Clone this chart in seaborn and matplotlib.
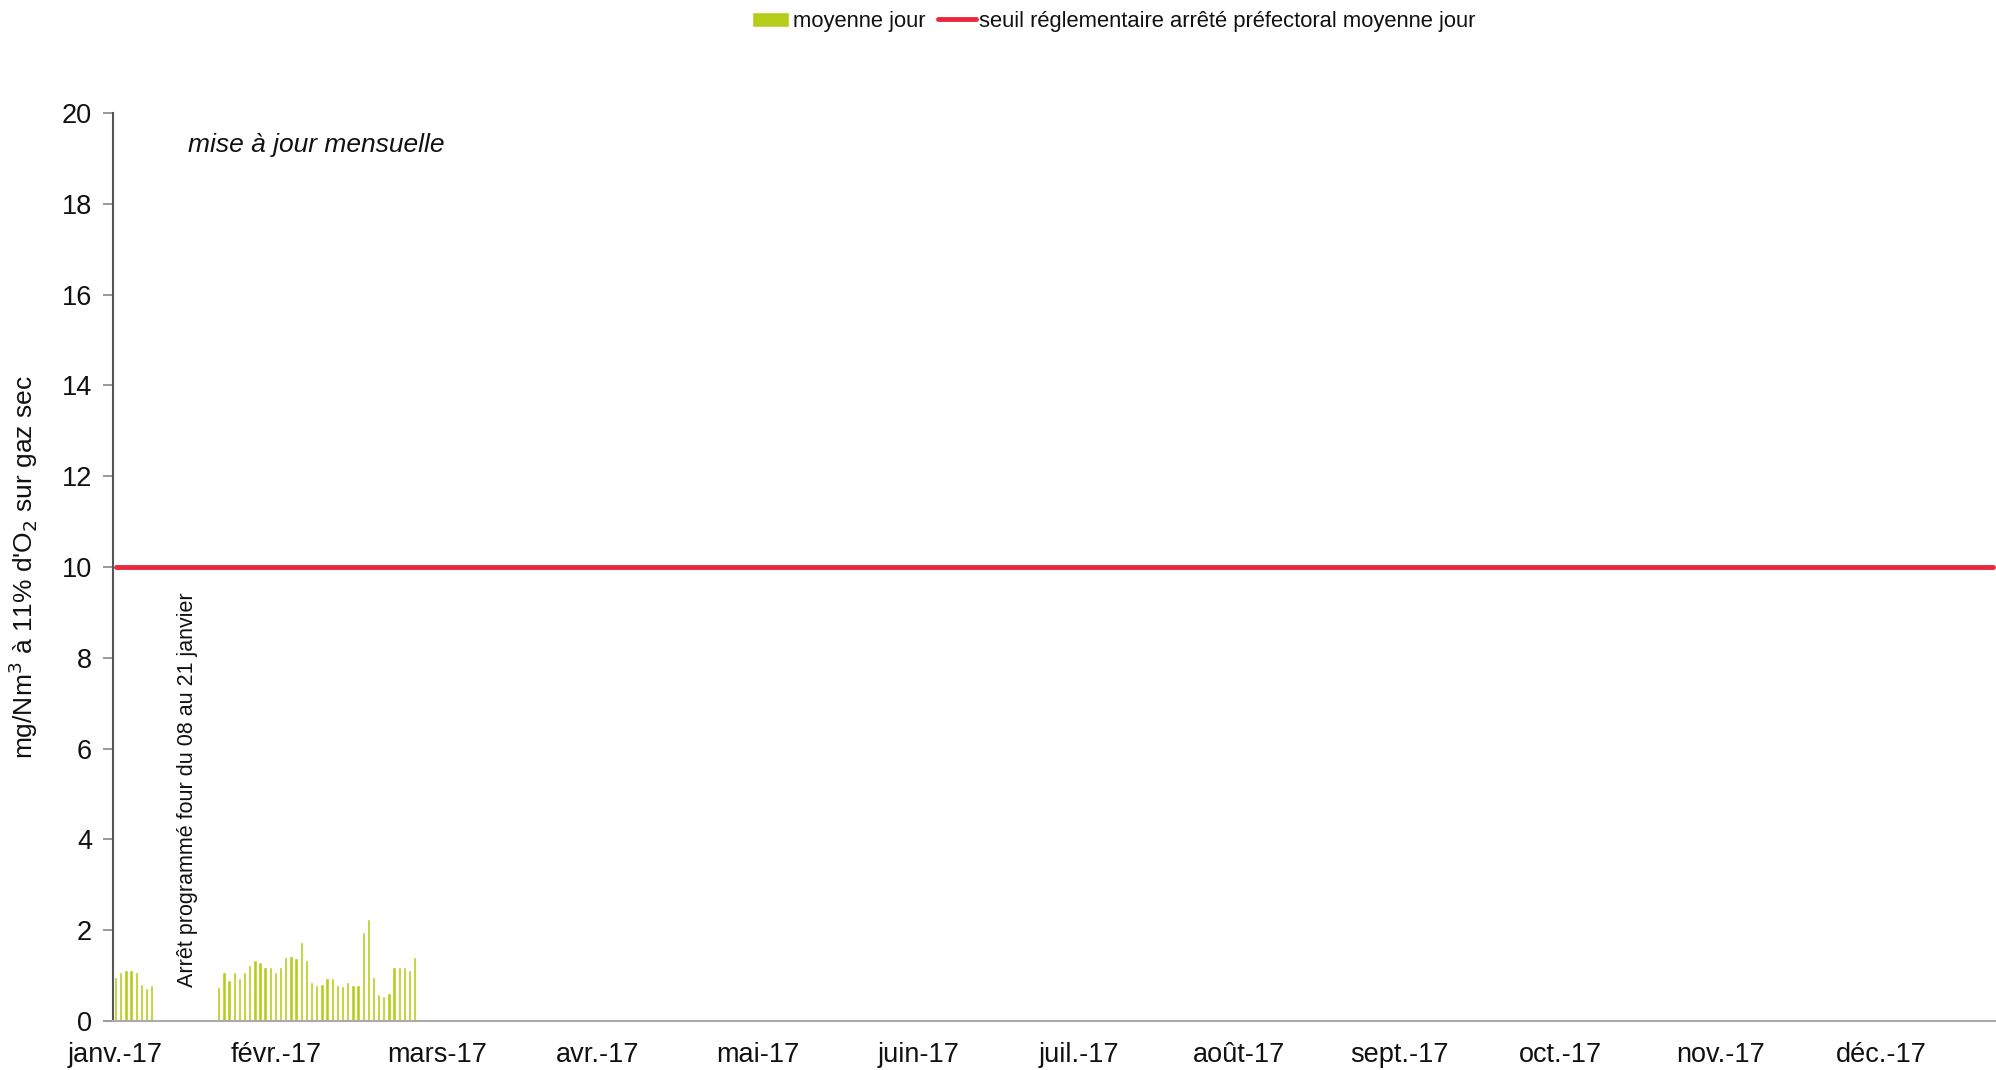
import pandas as pd
import numpy as np
import matplotlib.pyplot as plt
import matplotlib.dates as mdates
import seaborn as sns

# daily averages (mg/Nm3 at 11% O2, dry gas)
jan_dates = pd.date_range("2017-01-01", "2017-01-08")
jan_values = [0.98, 1.07, 1.12, 1.12, 1.07, 0.81, 0.72, 0.79]

feb_dates = pd.date_range("2017-01-21", "2017-02-28")
feb_values = [0.74, 1.09, 0.90, 1.07, 0.94, 1.07, 1.24, 1.34, 1.29, 1.19,
              1.19, 1.09, 1.19, 1.42, 1.43, 1.38, 1.73, 1.34, 0.85, 0.79,
              0.82, 0.94, 0.94, 0.79, 0.77, 0.86, 0.79, 0.79, 1.95, 2.24,
              0.97, 0.60, 0.55, 0.62, 1.19, 1.19, 1.19, 1.12, 1.41]

threshold_dates = pd.to_datetime(["2017-01-01", "2017-12-31"])
threshold_values = [10, 10]

month_labels = ["janv.-17", "févr.-17", "mars-17", "avr.-17", "mai-17", "juin-17",
                "juil.-17", "août-17", "sept.-17", "oct.-17", "nov.-17", "déc.-17"]

sns.set_style("white")
plt.rcParams['font.family'] = ['Liberation Sans', 'DejaVu Sans']
plt.rcParams['text.color'] = '#111111'
plt.rcParams['axes.labelcolor'] = '#111111'
plt.rcParams['xtick.labelcolor'] = '#111111'
plt.rcParams['ytick.labelcolor'] = '#111111'

df = pd.DataFrame({
    "date": list(jan_dates) + list(feb_dates),
    "value": jan_values + feb_values,
})
df["num"] = mdates.date2num(df["date"])

fig = plt.figure(figsize=(19.96, 10.70), dpi=100)
ax = fig.add_axes([0.0566, 0.0458, 0.9434, 0.8486])

sns.barplot(data=df, x="num", y="value", native_scale=True, width=0.65,
            color="#b5cd18", saturation=1, label="moyenne jour", ax=ax)
sns.lineplot(x=mdates.date2num(threshold_dates), y=threshold_values,
             color="#e8283c", linewidth=3.5,
             label="seuil réglementaire arrêté préfectoral moyenne jour", ax=ax)

start = mdates.date2num(pd.Timestamp("2017-01-01"))
ax.set_xlim(start - 0.5, start + 364.5)
ax.set_ylim(0, 20)
ax.set_yticks(range(0, 21, 2))
# month labels are evenly spaced along the axis, as in the original sheet
ax.set_xticks([start + i * 31.12 for i in range(len(month_labels))])
ax.set_xticklabels(month_labels)
ax.tick_params(axis="x", length=0, pad=15, labelsize=19.5)
ax.tick_params(axis="y", left=True, length=7, width=1.2, color="#888888", pad=8, labelsize=19.5)
ax.set_xlabel("")
ax.set_ylabel(r"mg/Nm$^3$ à 11% d'O$_2$ sur gaz sec", fontsize=19, labelpad=16)

for side in ["top", "right"]:
    ax.spines[side].set_visible(False)
ax.spines["left"].set_color("#555555")
ax.spines["left"].set_linewidth(1.5)
ax.spines["bottom"].set_color("#aaaaaa")
ax.spines["bottom"].set_linewidth(1.5)

ax.text(0.04, 0.965, "mise à jour mensuelle", transform=ax.transAxes,
        fontsize=19, style="italic", va="center", ha="left")
ax.text(start + 14.0, 5.1, "Arrêt programmé four du 08 au 21 janvier",
        rotation=90, fontsize=15.5, ha="center", va="center")

handles, labels = ax.get_legend_handles_labels()
order = [labels.index("moyenne jour"), labels.index("seuil réglementaire arrêté préfectoral moyenne jour")]
ax.legend([handles[i] for i in order], [labels[i] for i in order],
          loc="center", bbox_to_anchor=(0.558, 0.98), bbox_transform=fig.transFigure,
          ncol=2, frameon=False, fontsize=15.8, handlelength=1.7, handletextpad=0.15,
          columnspacing=0.6)

fig.savefig("out.png", dpi=100)
plt.close()
